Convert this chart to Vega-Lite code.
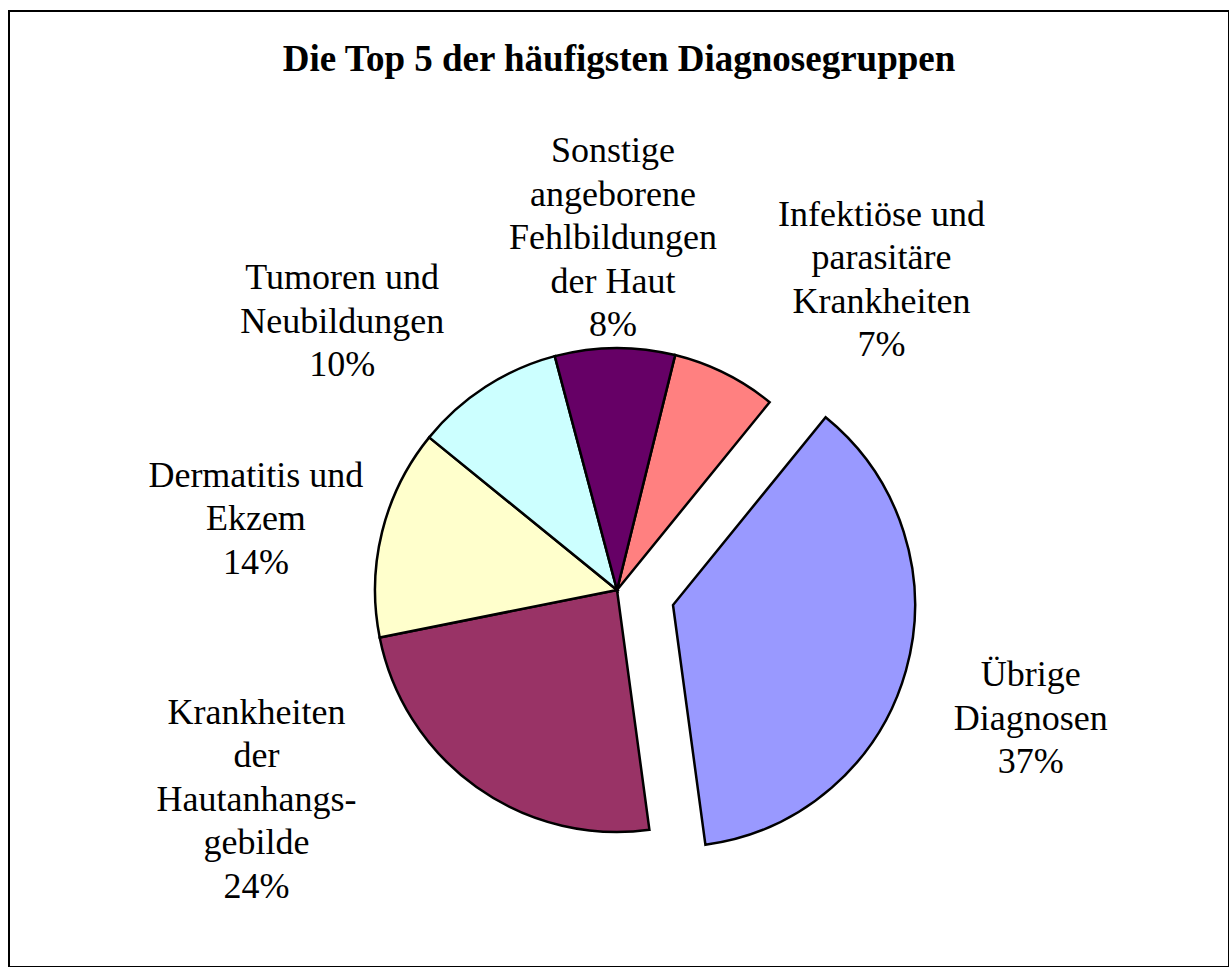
{
  "$schema": "https://vega.github.io/schema/vega-lite/v6.json",
  "width": 1220,
  "height": 956,
  "padding": {"left": 9, "top": 11, "right": 0, "bottom": 0},
  "autosize": {"type": "none"},
  "background": "white",
  "view": {"stroke": "black", "strokeWidth": 2},
  "config": {"view": {"stroke": "black", "strokeWidth": 2}, "font": "Liberation Serif"},
  "title": {"text": "Die Top 5 der häufigsten Diagnosegruppen", "font": "Liberation Serif", "fontSize": 37, "fontWeight": "bold", "color": "black", "anchor": "middle", "offset": -97, "baseline": "alphabetic"},
  "data": {"values": [
    {"cat": "Infektiöse und parasitäre Krankheiten", "label": "Infektiöse und\nparasitäre\nKrankheiten\n7%", "value": 7, "order": 1},
    {"cat": "Übrige Diagnosen", "label": "Übrige\nDiagnosen\n37%", "value": 37, "order": 2},
    {"cat": "Krankheiten der Hautanhangsgebilde", "label": "Krankheiten\nder\nHautanhangs-\ngebilde\n24%", "value": 24, "order": 3},
    {"cat": "Dermatitis und Ekzem", "label": "Dermatitis und\nEkzem\n14%", "value": 14, "order": 4},
    {"cat": "Tumoren und Neubildungen", "label": "Tumoren und\nNeubildungen\n10%", "value": 10, "order": 5},
    {"cat": "Sonstige angeborene Fehlbildungen der Haut", "label": "Sonstige\nangeborene\nFehlbildungen\nder Haut\n8%", "value": 8, "order": 6}
  ]},
  "transform": [{"stack": "value", "groupby": [], "sort": [{"field": "order", "order": "ascending"}], "as": ["v0", "v1"]}],
  "layer": [
    {
      "transform": [{"filter": "datum.cat !== 'Übrige Diagnosen'"}],
      "mark": {"type": "arc", "radius": 242, "stroke": "black", "strokeWidth": 2.5, "xOffset": -2, "yOffset": 101},
      "encoding": {
        "theta": {"field": "v0", "type": "quantitative", "scale": {"domain": [0, 100], "range": [0.2426, 6.5258]}},
        "theta2": {"field": "v1"},
        "color": {"field": "cat", "type": "nominal", "legend": null, "scale": {"domain": ["Infektiöse und parasitäre Krankheiten", "Übrige Diagnosen", "Krankheiten der Hautanhangsgebilde", "Dermatitis und Ekzem", "Tumoren und Neubildungen", "Sonstige angeborene Fehlbildungen der Haut"], "range": ["#FF8080", "#9999FF", "#993366", "#FFFFCC", "#CCFFFF", "#660066"]}}
      }
    },
    {
      "transform": [{"filter": "datum.cat === 'Übrige Diagnosen'"}],
      "mark": {"type": "arc", "radius": 242, "stroke": "black", "strokeWidth": 2.5, "xOffset": 54, "yOffset": 116},
      "encoding": {
        "theta": {"field": "v0", "type": "quantitative"},
        "theta2": {"field": "v1"},
        "color": {"field": "cat", "type": "nominal", "legend": null}
      }
    },
    {
      "transform": [{"filter": "datum.order === 1"}],
      "mark": {"type": "text", "radius": 408, "thetaOffset": 0.4625, "xOffset": -2, "yOffset": 36.5, "fontSize": 36, "lineHeight": 43.5, "lineBreak": "\n", "align": "center", "baseline": "middle", "font": "Liberation Serif", "color": "black"},
      "encoding": {"theta": {"field": "v0", "type": "quantitative"}, "text": {"field": "label"}}
    },
    {
      "transform": [{"filter": "datum.order === 2"}],
      "mark": {"type": "text", "radius": 376, "thetaOffset": 1.2008, "xOffset": 54, "yOffset": 70.5, "fontSize": 36, "lineHeight": 43.5, "lineBreak": "\n", "align": "center", "baseline": "middle", "font": "Liberation Serif", "color": "black"},
      "encoding": {"theta": {"field": "v0", "type": "quantitative"}, "text": {"field": "label"}}
    },
    {
      "transform": [{"filter": "datum.order === 3"}],
      "mark": {"type": "text", "radius": 415, "thetaOffset": 1.1868, "xOffset": -2, "yOffset": 18, "fontSize": 36, "lineHeight": 43.5, "lineBreak": "\n", "align": "center", "baseline": "middle", "font": "Liberation Serif", "color": "black"},
      "encoding": {"theta": {"field": "v0", "type": "quantitative"}, "text": {"field": "label"}}
    },
    {
      "transform": [{"filter": "datum.order === 4"}],
      "mark": {"type": "text", "radius": 368, "thetaOffset": 0.391, "xOffset": -2, "yOffset": 57.5, "fontSize": 36, "lineHeight": 43.5, "lineBreak": "\n", "align": "center", "baseline": "middle", "font": "Liberation Serif", "color": "black"},
      "encoding": {"theta": {"field": "v0", "type": "quantitative"}, "text": {"field": "label"}}
    },
    {
      "transform": [{"filter": "datum.order === 5"}],
      "mark": {"type": "text", "radius": 384, "thetaOffset": 0.0908, "xOffset": -2, "yOffset": 57.5, "fontSize": 36, "lineHeight": 43.5, "lineBreak": "\n", "align": "center", "baseline": "middle", "font": "Liberation Serif", "color": "black"},
      "encoding": {"theta": {"field": "v0", "type": "quantitative"}, "text": {"field": "label"}}
    },
    {
      "transform": [{"filter": "datum.order === 6"}],
      "mark": {"type": "text", "radius": 351, "thetaOffset": 0.2487, "xOffset": -2, "yOffset": 13, "fontSize": 36, "lineHeight": 43.5, "lineBreak": "\n", "align": "center", "baseline": "middle", "font": "Liberation Serif", "color": "black"},
      "encoding": {"theta": {"field": "v0", "type": "quantitative"}, "text": {"field": "label"}}
    }
  ]
}
